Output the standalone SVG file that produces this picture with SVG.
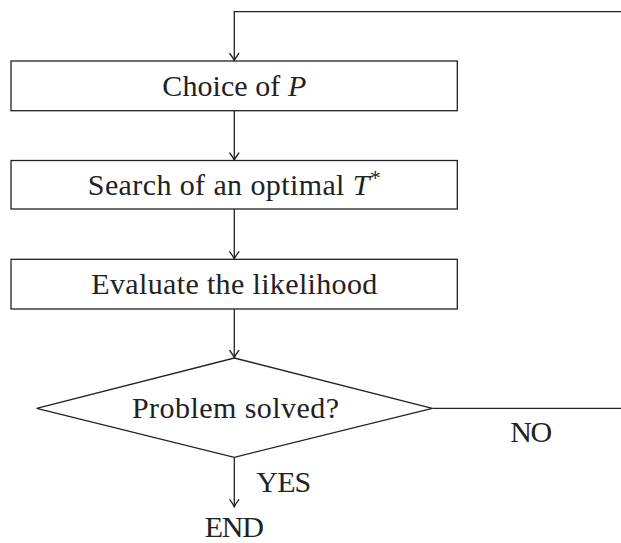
<svg xmlns="http://www.w3.org/2000/svg" width="621" height="543" viewBox="0 0 621 543">
<style>
.shape{fill:#fff;stroke:#222;stroke-width:1.3}
.conn{fill:none;stroke:#222;stroke-width:1.3}
.t{font-family:"Liberation Serif","Times New Roman",serif;font-size:30px;fill:#222;text-anchor:middle}
.it{font-style:italic}
</style>
<defs>
<marker id="arr" markerUnits="userSpaceOnUse" markerWidth="14" markerHeight="14" viewBox="-10 -7 14 14" refX="0" refY="0" orient="auto" overflow="visible">
<path d="M-7,-4.5 Q-2.5,-1.2 0,0 Q-2.5,1.2 -7,4.5" fill="none" stroke="#222" stroke-width="1.3" stroke-linecap="round"/>
</marker>
</defs>
<g id="connectors">
<polyline class="conn" points="621,11.7 234.3,11.7 234.3,60.5" marker-end="url(#arr)"/>
<line class="conn" x1="234.3" y1="110.7" x2="234.3" y2="160" marker-end="url(#arr)"/>
<line class="conn" x1="234.3" y1="209" x2="234.3" y2="258.8" marker-end="url(#arr)"/>
<line class="conn" x1="234.3" y1="309" x2="234.3" y2="357.5" marker-end="url(#arr)"/>
<line class="conn" x1="432.3" y1="408.3" x2="621" y2="408.3"/>
<line class="conn" x1="234.3" y1="457.3" x2="234.3" y2="506.7" marker-end="url(#arr)"/>
</g>
<g id="choice">
<rect class="shape" x="11" y="61" width="446.3" height="49.7"/>
<text class="t" x="234.3" y="95.5" textLength="144" lengthAdjust="spacing">Choice of <tspan class="it">P</tspan></text>
</g>
<g id="search">
<rect class="shape" x="11" y="160.5" width="446.3" height="48.5"/>
<text class="t" x="234.3" y="194.5" textLength="293" lengthAdjust="spacing">Search of an optimal <tspan class="it">T</tspan><tspan font-size="22" dy="-10">*</tspan></text>
</g>
<g id="evaluate">
<rect class="shape" x="11" y="259.3" width="446.3" height="49.7"/>
<text class="t" x="234.3" y="293.7" textLength="286" lengthAdjust="spacing">Evaluate the likelihood</text>
</g>
<g id="decision">
<polygon class="shape" points="234.3,358 432.3,408.3 234.3,457.3 36.7,408.3"/>
<text class="t" x="235.5" y="418" textLength="207" lengthAdjust="spacing">Problem solved?</text>
</g>
<g id="labels">
<text class="t" x="531.2" y="442" textLength="42" lengthAdjust="spacing">NO</text>
<text class="t" x="283.8" y="491.7" textLength="55" lengthAdjust="spacing">YES</text>
</g>
<g id="end">
<text class="t" x="234.3" y="537" textLength="59" lengthAdjust="spacing">END</text>
</g>
</svg>
